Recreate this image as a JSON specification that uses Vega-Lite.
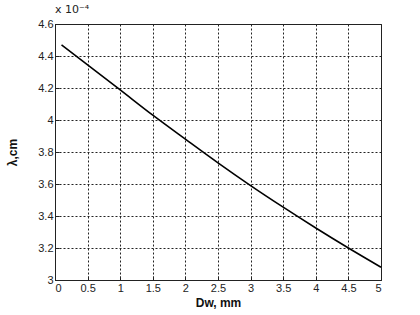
{
  "$schema": "https://vega.github.io/schema/vega-lite/v6.json",
  "autosize": "none",
  "width": 326,
  "height": 256,
  "padding": {"left": 55, "top": 24, "right": 14, "bottom": 35},
  "background": "white",
  "title": {
    "text": "x 10⁻⁴",
    "anchor": "start",
    "frame": "group",
    "fontSize": 11,
    "fontWeight": "normal",
    "font": "DejaVu Sans",
    "color": "#222",
    "offset": 3
  },
  "config": {
    "view": {"stroke": "#222", "strokeWidth": 1},
    "axis": {
      "labelFont": "Liberation Sans",
      "labelFontSize": 11,
      "labelColor": "#222",
      "titleFont": "Liberation Sans",
      "titleFontSize": 12,
      "titleFontWeight": "bold",
      "titleColor": "#111",
      "domainColor": "#222",
      "tickColor": "#222",
      "tickSize": -4,
      "grid": true,
      "gridColor": "#222",
      "gridDash": [2, 2],
      "gridOpacity": 1,
      "gridWidth": 1
    }
  },
  "data": {
    "values": [
      {"d": 0.1, "lam": 4.47},
      {"d": 0.5, "lam": 4.345},
      {"d": 1.0, "lam": 4.188},
      {"d": 1.5, "lam": 4.03},
      {"d": 2.0, "lam": 3.88},
      {"d": 2.5, "lam": 3.732},
      {"d": 3.0, "lam": 3.59},
      {"d": 3.5, "lam": 3.455},
      {"d": 4.0, "lam": 3.325},
      {"d": 4.5, "lam": 3.2},
      {"d": 5.0, "lam": 3.08}
    ]
  },
  "mark": {"type": "line", "color": "black", "strokeWidth": 1.6, "interpolate": "monotone"},
  "encoding": {
    "x": {
      "field": "d",
      "type": "quantitative",
      "scale": {"domain": [0, 5], "nice": false},
      "axis": {"values": [0, 0.5, 1, 1.5, 2, 2.5, 3, 3.5, 4, 4.5, 5], "format": "~g", "title": "Dw, mm", "titlePadding": 4, "labelPadding": 6}
    },
    "y": {
      "field": "lam",
      "type": "quantitative",
      "scale": {"domain": [3, 4.6], "nice": false, "zero": false},
      "axis": {"values": [3, 3.2, 3.4, 3.6, 3.8, 4, 4.2, 4.4, 4.6], "format": "~g", "title": "λ,cm", "titlePadding": 18, "labelPadding": 6}
    }
  }
}
